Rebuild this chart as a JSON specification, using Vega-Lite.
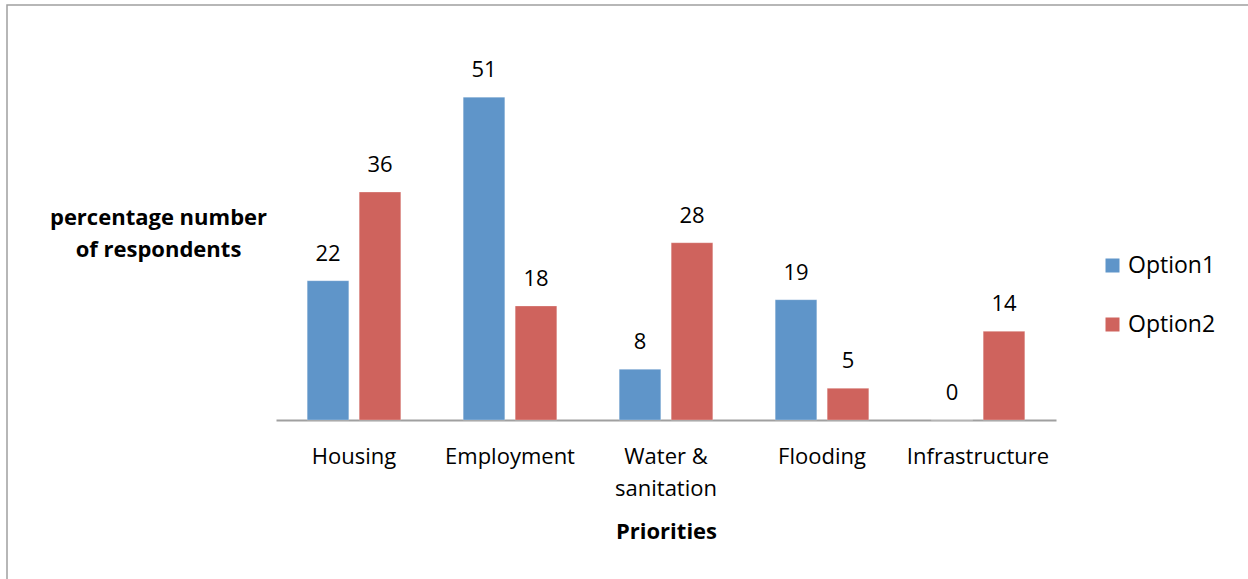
{
  "$schema": "https://vega.github.io/schema/vega-lite/v6.json",
  "autosize": {"type": "none"},
  "padding": {"left": 7, "top": 5, "right": -5, "bottom": -6},
  "width": 1246,
  "height": 580,
  "config": {
    "font": "Open Sans",
    "view": {"stroke": "#a0a0a0", "strokeWidth": 1.5}
  },
  "data": {
    "values": [
      {"priority": "Housing", "option": "Option1", "value": 22},
      {"priority": "Housing", "option": "Option2", "value": 36},
      {"priority": "Employment", "option": "Option1", "value": 51},
      {"priority": "Employment", "option": "Option2", "value": 18},
      {"priority": "Water & sanitation", "option": "Option1", "value": 8},
      {"priority": "Water & sanitation", "option": "Option2", "value": 28},
      {"priority": "Flooding", "option": "Option1", "value": 19},
      {"priority": "Flooding", "option": "Option2", "value": 5},
      {"priority": "Infrastructure", "option": "Option1", "value": 0},
      {"priority": "Infrastructure", "option": "Option2", "value": 14}
    ]
  },
  "encoding": {
    "x": {
      "field": "priority",
      "type": "nominal",
      "sort": ["Housing", "Employment", "Water & sanitation", "Flooding", "Infrastructure"],
      "scale": {"paddingInner": 0, "paddingOuter": 0, "range": [269, 1049]},
      "axis": {
        "title": "Priorities",
        "titleFont": "Open Sans",
        "titleFontSize": 22,
        "titleFontWeight": "bold",
        "titleColor": "#000000",
        "titleBaseline": "alphabetic",
        "titleY": 118,
        "offset": -165,
        "domain": true,
        "domainColor": "#a0a0a0",
        "domainWidth": 2,
        "ticks": false,
        "tickSize": 0,
        "labelAngle": 0,
        "labelFont": "Open Sans",
        "labelFontSize": 22,
        "labelColor": "#000000",
        "labelBaseline": "alphabetic",
        "labelPadding": 43,
        "labelLineHeight": 32,
        "labelExpr": "datum.label == 'Water & sanitation' ? ['Water &', 'sanitation'] : datum.label"
      }
    }
  },
  "layer": [
    {
      "mark": {"type": "bar", "stroke": "#ffffff", "strokeOpacity": 0.25, "strokeWidth": 1},
      "encoding": {
        "xOffset": {
          "field": "option",
          "type": "nominal",
          "scale": {"paddingInner": 0.2, "paddingOuter": 0.6}
        },
        "y": {
          "field": "value",
          "type": "quantitative",
          "scale": {"domain": [-26.07, 65.56], "nice": false, "zero": false},
          "axis": {
            "title": ["percentage number", "of  respondents"],
            "titleAngle": 0,
            "titleAlign": "center",
            "titleBaseline": "alphabetic",
            "titleX": 151,
            "titleY": 219,
            "titleFont": "Open Sans",
            "titleFontSize": 22,
            "titleFontWeight": "bold",
            "titleColor": "#000000",
            "titleLineHeight": 32,
            "labels": false,
            "ticks": false,
            "domain": false,
            "grid": false
          }
        },
        "color": {
          "field": "option",
          "type": "nominal",
          "scale": {"domain": ["Option1", "Option2"], "range": ["#5f95c9", "#cf635d"]},
          "legend": {
            "title": null,
            "orient": "none",
            "legendX": 1094,
            "legendY": 249,
            "padding": 0,
            "symbolType": "square",
            "symbolSize": 196,
            "symbolStrokeWidth": 0,
            "labelFont": "Open Sans",
            "labelFontSize": 23,
            "labelColor": "#000000",
            "labelOffset": 4,
            "rowPadding": 35
          }
        }
      }
    },
    {
      "mark": {"type": "text", "baseline": "alphabetic", "dy": -20, "fontSize": 22, "font": "Open Sans", "color": "#000000"},
      "encoding": {
        "xOffset": {"field": "option", "type": "nominal"},
        "y": {"field": "value", "type": "quantitative"},
        "text": {"field": "value", "type": "quantitative"}
      }
    }
  ]
}
